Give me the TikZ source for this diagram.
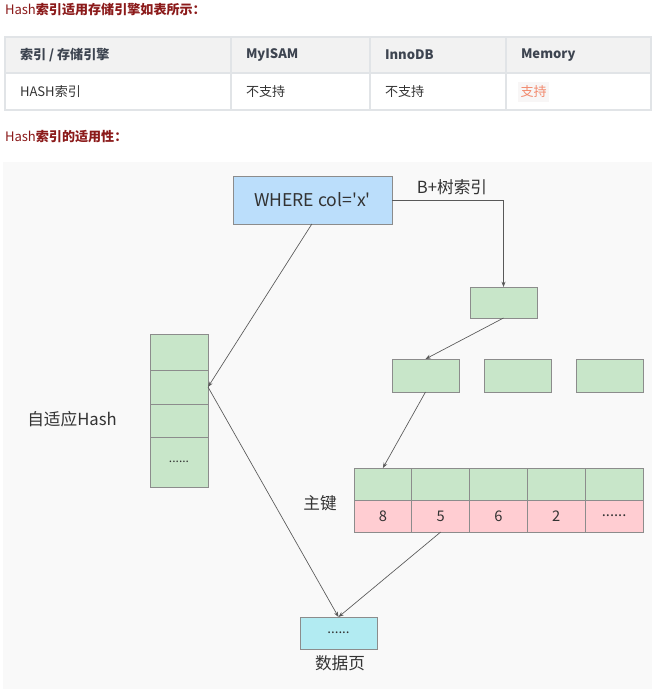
\documentclass[tikz,border=0pt]{standalone}
\usepackage{fontspec}
\usepackage{xcolor}
\usepackage{tikz}
\usetikzlibrary{arrows.meta, positioning}
\newfontfamily\cjk{Noto Sans CJK SC}
\newcommand\sixdots{......}
\definecolor{titleRed}{HTML}{8B1A1A}
\definecolor{gridGray}{HTML}{E1E4E7}
\definecolor{headGray}{HTML}{F2F2F2}
\definecolor{inkGray}{HTML}{333333}
\definecolor{headInk}{HTML}{3D4450}
\definecolor{canvas}{HTML}{F9F9F9}
\definecolor{queryBlue}{HTML}{BBDEFB}
\definecolor{nodeGreen}{HTML}{C8E6C9}
\definecolor{keyPink}{HTML}{FFCDD2}
\definecolor{pageCyan}{HTML}{B2EBF2}
\definecolor{tagOrange}{HTML}{F28A6E}
\definecolor{tagBg}{HTML}{F8F6F6}

\begin{document}
\begin{tikzpicture}[
    x=0.75pt, y=-0.75pt,
    every node/.style={font=\cjk, text=inkGray, inner sep=0pt, outer sep=0pt},
    title/.style={font=\cjk\fontsize{9.8}{12}\selectfont, text=titleRed, anchor=west},
    cell/.style={font=\cjk\fontsize{9.8}{12}\selectfont, anchor=west},
    box/.style={draw=gray!90, line width=0.6pt},
    gbox/.style={box, fill=nodeGreen, minimum width=50.25pt, minimum height=24.75pt},
    label/.style={font=\cjk\fontsize{12.5}{15}\selectfont},
    link/.style={draw=black!65, line width=0.5pt, -{Stealth[length=4pt, width=3pt]}},
    >=Stealth
  ]
  \useasboundingbox (0,0) rectangle (655,689);

  % ── Engine table (top) ──────────────────────────────────────────────────
  \node[title] (t1) at (5,10) {Hash{\bfseries 索引适用存储引擎如表所示：}};

  \fill[headGray] (5,37) rectangle (651,73);
  \draw[gridGray, line width=1.5pt] (5,37) rectangle (651,110);
  \draw[gridGray, line width=1.5pt] (5,73) -- (651,73);
  \foreach \cx in {231,370,506}
    \draw[gridGray, line width=1.5pt] (\cx,37) -- (\cx,110);

  \node[cell, text=headInk, font=\cjk\bfseries\fontsize{9.8}{12}\selectfont] (h0) at (20,55) {索引 / 存储引擎};
  \node[cell, text=headInk, font=\cjk\bfseries\fontsize{9.8}{12}\selectfont] (h1) at (246,55) {MyISAM};
  \node[cell, text=headInk, font=\cjk\bfseries\fontsize{9.8}{12}\selectfont] (h2) at (385,55) {InnoDB};
  \node[cell, text=headInk, font=\cjk\bfseries\fontsize{9.8}{12}\selectfont] (h3) at (521,55) {Memory};

  \node[cell] (r0) at (20,92) {HASH索引};
  \node[cell] (r1) at (246,92) {不支持};
  \node[cell] (r2) at (385,92) {不支持};
  \node[cell, text=tagOrange, fill=tagBg, inner xsep=2pt, inner ysep=3pt] (r3) at (518,92) {支持};

  \node[title] (t2) at (5,137) {Hash{\bfseries 索引的适用性：}};

  % ── Diagram (bottom) ────────────────────────────────────────────────────
  \fill[canvas] (3,162) rectangle (652,689);

  % Query
  \node[box, fill=queryBlue, minimum width=119.25pt, minimum height=36pt, label,
    font=\cjk\fontsize{13.2}{16}\selectfont] (where) at (312.5,200) {WHERE col='x'};
  \node[label] (btree) at (452,187) {B+树索引};

  % B+ tree: root and inner level
  \node[gbox, minimum height=23.25pt] (root) at (503.5,302.5) {};
  \node[gbox] (in1) at (425.5,375.5) {};
  \node[gbox] (in2) at (517.5,375.5) {};
  \node[gbox] (in3) at (609.5,375.5) {};

  % Leaf: key row over primary key row
  \foreach \v [count=\i] in {8,5,6,2,\sixdots} {
    \node[box, fill=nodeGreen, minimum width=43.35pt, minimum height=24pt]
      (k\i) at ({354+57.8*(\i-0.5)},484) {};
    \node[box, fill=keyPink, minimum width=43.35pt, minimum height=24pt,
      font=\cjk\fontsize{11}{13}\selectfont] (p\i) at ({354+57.8*(\i-0.5)},516) {\v};
  }
  \node[label] (pk) at (320,503) {主键};

  % Adaptive hash column
  \node[box, fill=nodeGreen, minimum width=43.5pt, minimum height=27pt] (a1) at (179,352) {};
  \node[box, fill=nodeGreen, minimum width=43.5pt, minimum height=25.5pt] (a2) at (179,387) {};
  \node[box, fill=nodeGreen, minimum width=43.5pt, minimum height=24.75pt] (a3) at (179,420.5) {};
  \node[box, fill=nodeGreen, minimum width=43.5pt, minimum height=37.5pt,
    font=\cjk\fontsize{9}{11}\selectfont] (a4) at (179,462) {\sixdots};
  \node[label] (ahi) at (72,419) {自适应Hash};

  % Data page
  \node[box, fill=pageCyan, minimum width=57.75pt, minimum height=24pt,
    font=\cjk\fontsize{10}{12}\selectfont] (page) at (338.5,633) {\sixdots};
  \node[label] (pagelbl) at (340,663) {数据页};

  \draw[link] (where.east) -| (root.north);
  \draw[link] (root.south) -- (in1.north);
  \draw[link] (in1.south) -- (k1.north);
  \draw[link] ([xshift=-0.5pt]where.south) -- (a2.east);
  \draw[link] (a2.east) -- (page.north);
  \draw[link] (p2.south) -- (page.north);

\end{tikzpicture}
\end{document}
